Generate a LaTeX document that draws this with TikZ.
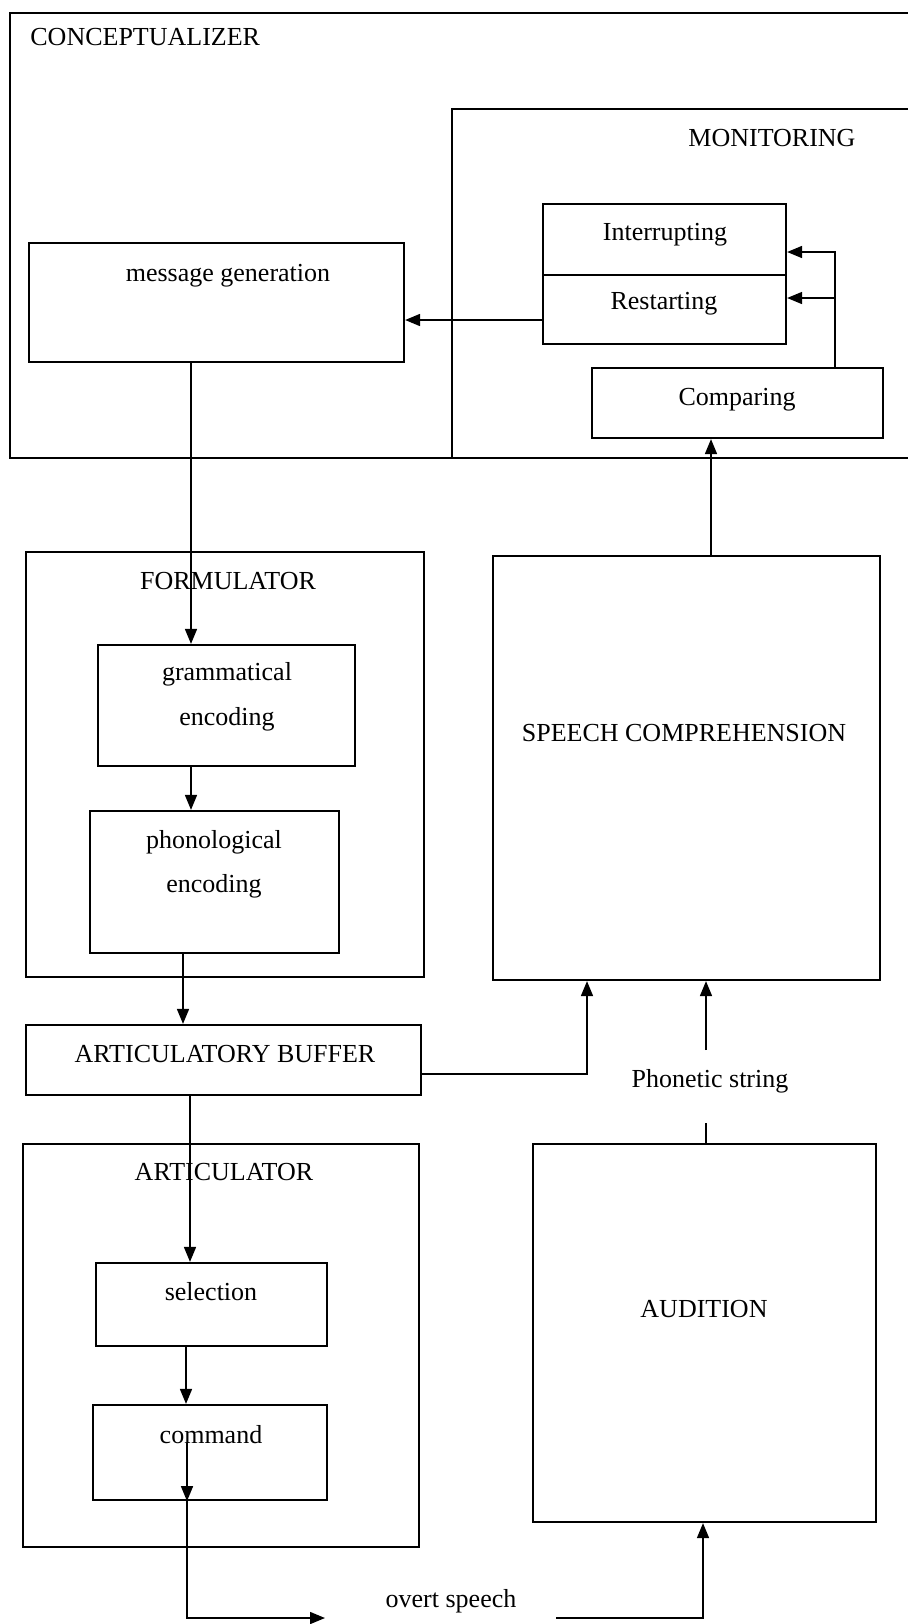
\documentclass[tikz,border=0pt]{standalone}
\usepackage{fontspec}
\setmainfont{Liberation Serif}
\usetikzlibrary{arrows.meta,fit,calc}
\begin{document}
\begin{tikzpicture}[x=0.5pt,y=-0.5pt,
  frame/.style={draw, line width=1.1pt},
  box/.style={draw, line width=1.1pt, inner sep=0pt, fit={#1}},
  lbl/.style={font=\fontsize{13}{17}\selectfont, inner sep=0pt},
  conn/.style={line width=0.8pt},
  arr/.style={conn, -{Triangle[length=7.5pt,width=6pt]}}
]
\useasboundingbox (0,0) rectangle (908,1624);

% outer frames, open on the right
\draw[frame] (908,13) -| (10,458) -- (908,458);
\draw[frame] (908,109) -| (452,458);
\node[lbl, anchor=west] (tconc) at (30,37) {CONCEPTUALIZER};
\node[lbl] (tmon) at (772,138) {MONITORING};

% monitoring components
\node[box={(543,204) (786,275)}] (intr) {};
\node[box={(543,275) (786,344)}] (rest) {};
\node[box={(592,368) (883,438)}] (cmp) {};
\node[lbl] (tint) at (665,235) {Interrupting};
\node[lbl] (trest) at (664,304) {Restarting};
\node[lbl] (tcmp) at (737,400) {Comparing};

% message generation
\node[box={(29,243) (404,362)}] (msg) {};
\node[lbl] (tmsg) at (228,276) {message generation};

% formulator
\node[box={(26,552) (424,977)}] (form) {};
\node[lbl] (tform) at (228,581) {FORMULATOR};
\node[box={(98,645) (355,766)}] (gram) {};
\node[lbl] (tgram1) at (227,674) {grammatical};
\node[lbl] (tgram2) at (227,719) {encoding};
\node[box={(90,811) (339,953)}] (phon) {};
\node[lbl] (tphon1) at (214,842) {phonological};
\node[lbl] (tphon2) at (214,886) {encoding};

% articulatory buffer
\node[box={(26,1025) (421,1095)}] (buf) {};
\node[lbl] (tbuf) at (225,1054) {ARTICULATORY BUFFER};

% speech comprehension
\node[box={(493,556) (880,980)}] (speech) {};
\node[lbl] (tspeech) at (684,733) {SPEECH COMPREHENSION};
\node[lbl] (tphonetic) at (710,1081) {Phonetic string};

% articulator
\node[box={(23,1144) (419,1547)}] (artic) {};
\node[lbl] (tartic) at (224,1172) {ARTICULATOR};
\node[box={(96,1263) (327,1346)}] (sel) {};
\node[lbl] (tsel) at (211,1292) {selection};
\node[box={(93,1405) (327,1500)}] (cmd) {};
\node[lbl] (tcmd) at (211,1435) {command};

% audition
\node[box={(533,1144) (876,1522)}] (aud) {};
\node[lbl] (taud) at (704,1309) {AUDITION};
\node[lbl] (tovert) at (451,1601) {overt speech};

% routing coordinates
\coordinate (fbx) at (835,0);
\coordinate (yi) at (0,252);
\coordinate (yr) at (0,298);
\coordinate (yrm) at (0,320);
\coordinate (c1) at (191,0);
\coordinate (c2) at (183,0);
\coordinate (c3) at (587,1074);
\coordinate (c4) at (711,0);
\coordinate (c5) at (706,1050);
\coordinate (c6) at (706,1123);
\coordinate (c7) at (190,0);
\coordinate (c8) at (186,0);
\coordinate (c9) at (187,1443);
\coordinate (c10) at (325,1618);
\coordinate (c11) at (556,1618);
\coordinate (c12) at (703,0);

% monitoring loop
\draw[arr] (cmp.north -| fbx) -- (fbx |- yi) -- (intr.east |- yi);
\draw[arr] (fbx |- yr) -- (rest.east |- yr);
\draw[arr] (rest.west |- yrm) -- (msg.east |- yrm);

% production chain
\draw[arr] (msg.south -| c1) -- (gram.north -| c1);
\draw[arr] (gram.south -| c1) -- (phon.north -| c1);
\draw[arr] (phon.south -| c2) -- (buf.north -| c2);
\draw[arr] (buf.south -| c7) -- (sel.north -| c7);
\draw[arr] (sel.south -| c8) -- (cmd.north -| c8);
\draw[arr] (c9) -- (cmd.south -| c9);
\draw[arr] (cmd.south -| c9) -- (c9 |- c10) -- (c10);

% comprehension chain
\draw[arr] (buf.east |- c3) -| (speech.south -| c3);
\draw[arr] (speech.north -| c4) -- (cmp.south -| c4);
\draw[arr] (c5) -- (speech.south -| c5);
\draw[conn] (aud.north -| c6) -- (c6);
\draw[arr] (c11) -| (aud.south -| c12);
\end{tikzpicture}
\end{document}
